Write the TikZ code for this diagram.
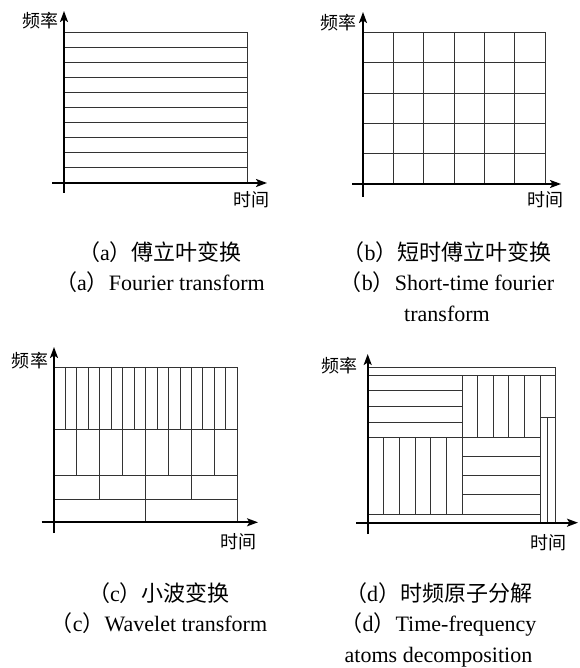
\documentclass[tikz,border=0pt]{standalone}
\usepackage{fontspec}
\setmainfont{Liberation Serif}
\newfontfamily\cjk{Noto Sans CJK SC}
\usetikzlibrary{arrows.meta}
\newcommand\plab[1]{{\cjk （}#1{\cjk ）}}
\begin{document}
\begin{tikzpicture}[x=1pt,y=-1pt,
  axis/.style={line width=1.8pt, -{Stealth[length=11pt,width=8pt,inset=2.5pt]}},
  gridline/.style={line width=0.9pt, draw=black!80},
  axlab/.style={font=\cjk\fontsize{18}{18}\selectfont, inner sep=0pt},
  captext/.style={font=\fontsize{22}{22}\selectfont, inner sep=0pt, anchor=base}]
\useasboundingbox (0,0) rectangle (579,668);

% ---------- (a) Fourier transform ----------
\draw[gridline] (64,32) rectangle (247,183);
\foreach \i in {1,...,9} \draw[gridline] (64,{32+\i*15.1}) -- (247,{32+\i*15.1});
\coordinate (ay0) at (64,193); \coordinate (ay1) at (64,11);
\coordinate (ax0) at (52,183); \coordinate (ax1) at (267,183);
\draw[axis] (ay0) -- (ay1);
\draw[axis] (ax0) -- (ax1);
\node[axlab] (afreq) at (40,21) {频率};
\node[axlab] (atime) at (251,200) {时间};

% ---------- (b) STFT ----------
\foreach \i in {0,...,6} \draw[gridline] ({363+\i*30.33},32.3) -- ({363+\i*30.33},184);
\foreach \i in {0,...,5} \draw[gridline] (363,{32.3+\i*30.33}) -- (545,{32.3+\i*30.33});
\coordinate (by0) at (363,197); \coordinate (by1) at (363,12);
\coordinate (bx0) at (352,184); \coordinate (bx1) at (561,184);
\draw[axis] (by0) -- (by1);
\draw[axis] (bx0) -- (bx1);
\node[axlab] (bfreq) at (338,23) {频率};
\node[axlab] (btime) at (545,200) {时间};

% ---------- (c) Wavelet ----------
\draw[gridline] (54,367.3) rectangle (237.3,522.3);
\foreach \y in {429,475.7,499.3} \draw[gridline] (54,\y) -- (237.3,\y);
\foreach \k in {1,...,15} \draw[gridline] ({54+\k*183.3/16},367.3) -- ({54+\k*183.3/16},429);
\foreach \k in {1,...,7} \draw[gridline] ({54+\k*183.3/8},429) -- ({54+\k*183.3/8},475.7);
\foreach \k in {1,...,3} \draw[gridline] ({54+\k*183.3/4},475.7) -- ({54+\k*183.3/4},499.3);
\draw[gridline] ({54+183.3/2},499.3) -- ({54+183.3/2},522.3);
\coordinate (cy0) at (54,533); \coordinate (cy1) at (54,347);
\coordinate (cx0) at (41.7,522.3); \coordinate (cx1) at (258,522.3);
\draw[axis] (cy0) -- (cy1);
\draw[axis] (cx0) -- (cx1);
\node[axlab] (cfreq) at (30,361) {频率};
\node[axlab] (ctime) at (238,542) {时间};

% ---------- (d) Time-frequency atoms ----------
\draw[gridline] (367.7,367.3) rectangle (555.7,522.7);
\draw[gridline] (367.7,375) -- (555.7,375);
\draw[gridline] (367.7,437.7) -- (540,437.7);
\draw[gridline] (462.3,375) -- (462.3,514);
\draw[gridline] (540,375) -- (540,522.7);
\draw[gridline] (367.7,514) -- (540,514);
\foreach \k in {1,2,3} \draw[gridline] (367.7,{375+\k*15.67}) -- (462.3,{375+\k*15.67});
\foreach \k in {1,...,4} \draw[gridline] ({462.3+\k*15.54},375) -- ({462.3+\k*15.54},437.7);
\draw[gridline] (540,417.7) -- (555.7,417.7);
\draw[gridline] (547.7,417.7) -- (547.7,522.7);
\foreach \k in {1,...,5} \draw[gridline] ({367.7+\k*15.77},437.7) -- ({367.7+\k*15.77},514);
\foreach \k in {1,2,3} \draw[gridline] (462.3,{437.7+\k*19.08}) -- (540,{437.7+\k*19.08});
\coordinate (dy0) at (367.7,534); \coordinate (dy1) at (367.7,354);
\coordinate (dx0) at (356,522.7); \coordinate (dx1) at (578,522.7);
\draw[axis] (dy0) -- (dy1);
\draw[axis] (dx0) -- (dx1);
\node[axlab] (dfreq) at (339,366) {频率};
\node[axlab] (dtime) at (548,543) {时间};

% ---------- captions ----------
\node[captext] (ca1) at (160,260) {\plab{a}{\cjk 傅立叶变换}};
\node[captext] (ca2) at (160,290.5) {\plab{a}Fourier transform};
\node[captext] (cb1) at (447,260) {\plab{b}{\cjk 短时傅立叶变换}};
\node[captext] (cb2) at (447,290.5) {\plab{b}Short-time fourier};
\node[captext] (cb3) at (447,321.5) {transform};
\node[captext] (cc1) at (159,601) {\plab{c}{\cjk 小波变换}};
\node[captext] (cc2) at (159,631.5) {\plab{c}Wavelet transform};
\node[captext] (cd1) at (438.5,601) {\plab{d}{\cjk 时频原子分解}};
\node[captext] (cd2) at (438.5,631.5) {\plab{d}Time-frequency};
\node[captext] (cd3) at (438.5,662) {atoms decomposition};
\end{tikzpicture}
\end{document}
